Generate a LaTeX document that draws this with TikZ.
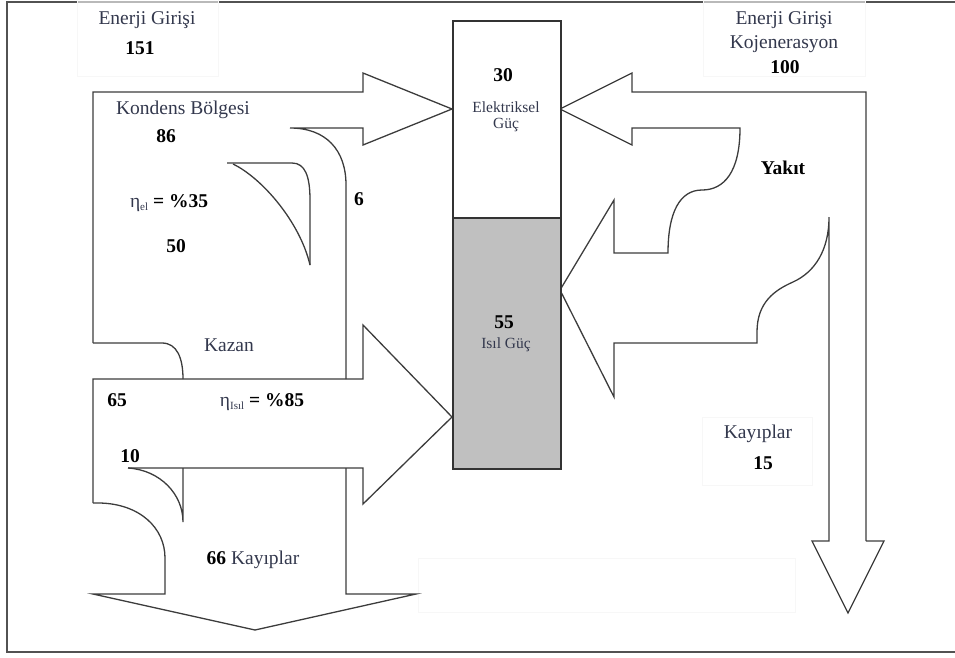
\documentclass[tikz,border=0pt]{standalone}
\usepackage{fontspec}
\setmainfont{Liberation Serif}
\definecolor{lab}{HTML}{33384D}
\definecolor{ln}{HTML}{3C3C3C}
\definecolor{colgray}{HTML}{C0C0C0}
\begin{document}
\begin{tikzpicture}[x=1pt,y=-1pt,
  flow/.style={draw=ln, line width=1.3pt, line join=miter},
  frameline/.style={draw=black!68, line width=2pt},
  faint/.style={fill=white, fill opacity=0.6, draw=black!3, line width=0.5pt},
  lbl/.style={font=\fontsize{19.5}{22}\selectfont, text=lab, inner sep=0pt},
  small/.style={font=\fontsize{15.5}{17}\selectfont, text=lab, inner sep=0pt},
  num/.style={font=\fontsize{19.5}{22}\selectfont\bfseries, text=black, inner sep=0pt}]
\useasboundingbox (0,0) rectangle (955,657);
% frame
\draw[frameline] (955,2) -- (7,2) -- (7,652) -- (955,652);
% faint text boxes
\path[faint] (77,-1) rectangle (218,76);
\path[faint] (703,-1) rectangle (865,76);
\path[faint] (702,417) rectangle (812,485);
\path[faint] (418,558) rectangle (795,612);
% Kondens arrow (electrical, left)
\draw[flow] (93,343) -- (93,92) -- (363,92) -- (363,73) -- (452,109) -- (363,145) -- (363,128) -- (290,128)
  .. controls (326,128) and (346,150) .. (346,185) -- (346,379);
\draw[flow] (93,343) -- (162,343) .. controls (177,343) and (183,358) .. (183,379);
% inner spike 50
\draw[flow] (227,163) -- (292,163) .. controls (305,163) and (310,176) .. (310,200) -- (310,265);
\draw[flow] (233,164) .. controls (262,178) and (300,222) .. (310,265);
% Kazan arrow (heat, left)
\draw[flow] (93,503) -- (93,379) -- (363,379) -- (363,325) -- (452,417) -- (363,504) -- (363,468) -- (128,468);
\draw[flow] (128,468) .. controls (160,470) and (183,494) .. (183,522) -- (183,468);
\draw[flow] (346,468) -- (346,594) -- (416,594) -- (255,630) -- (93,594) -- (165,594) -- (165,558)
  .. controls (165,528) and (140,504) .. (100,503) -- (93,503);
% right cogeneration arrows
\draw[flow] (866,541) -- (866,92) -- (632,92) -- (632,73) -- (560,109) -- (632,145) -- (632,128) -- (740,128)
  .. controls (740,172) and (724,190) .. (702,190)
  .. controls (680,190) and (668,212) .. (668,253)
  -- (614,253) -- (614,200) -- (560,290) -- (614,397) -- (614,343) -- (757,343) -- (757,332)
  .. controls (757,302) and (775,290) .. (793,282)
  .. controls (815,272) and (829,250) .. (829,217)
  -- (829,541) -- (812,541) -- (848,613) -- (884,541) -- (866,541);
% central column
\node[draw=black!80, line width=2.3pt, fill=white, minimum width=108pt, minimum height=197pt, inner sep=0pt, anchor=north west] (elbox) at (452,20) {};
\node[draw=black!80, line width=2.3pt, fill=colgray, minimum width=108pt, minimum height=251pt, inner sep=0pt, anchor=north west] (isbox) at (452,217) {};
% texts
\node[lbl] (eg1) at (147,20) {Enerji Girişi};
\node[num] (n151) at (140,48) {151};
\node[lbl] (kond) at (183,110) {Kondens Bölgesi};
\node[num] (n86) at (166,136) {86};
\node[inner sep=0pt, font=\fontsize{19.5}{22}\selectfont] (etael) at (169,203) {{\color{lab}η}\raisebox{-3pt}{\fontsize{11}{12}\selectfont\color{lab}el} \textbf{= \%35}};
\node[num] (n50) at (176,246) {50};
\node[num] (n6) at (359,199) {6};
\node[lbl] (kazan) at (229,345) {Kazan};
\node[num] (n65) at (117,400) {65};
\node[inner sep=0pt, font=\fontsize{19.5}{22}\selectfont] (etaisil) at (262,402) {{\color{lab}η}\raisebox{-3pt}{\fontsize{11}{12}\selectfont\color{lab}Isıl} \textbf{= \%85}};
\node[num] (n10) at (130,456) {10};
\node[inner sep=0pt, font=\fontsize{19.5}{22}\selectfont] (kay66) at (253,560) {\textbf{66} {\color{lab}Kayıplar}};
\node[num] (n30) at (503,75) {30};
\node[small] (elek) at (506,107) {Elektriksel};
\node[small] (guc) at (506,125) {Güç};
\node[num] (n55) at (504,322) {55};
\node[small] (isil) at (506,345) {Isıl Güç};
\node[lbl] (eg2) at (784,20) {Enerji Girişi};
\node[lbl] (kojen) at (784,44) {Kojenerasyon};
\node[num] (n100) at (785,67) {100};
\node[num] (yakit) at (783,168) {Yakıt};
\node[lbl] (kay15) at (758,434) {Kayıplar};
\node[num] (n15) at (763,463) {15};
\end{tikzpicture}
\end{document}
